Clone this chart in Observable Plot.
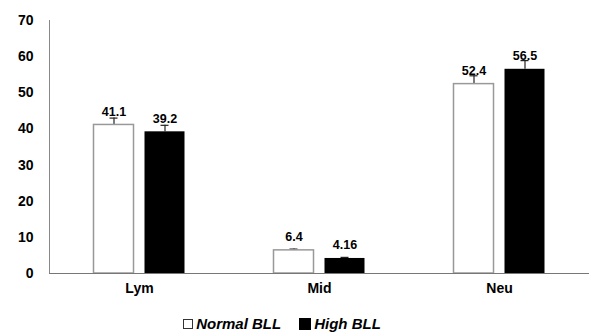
<!DOCTYPE html>
<html>
<head>
<meta charset="utf-8">
<script src="https://cdn.jsdelivr.net/npm/d3@7"></script>
<script src="https://cdn.jsdelivr.net/npm/@observablehq/plot@0.6"></script>
<style>
  body { margin: 0; background: #fff; font-family: "Liberation Sans", Arial, sans-serif; }
  #chart { width: 591px; }
  .legend { width: 591px; height: 33px; box-sizing: border-box; padding-right: 27px; padding-top: 14px;
            display: flex; justify-content: center; align-items: center; gap: 0;
            font: italic bold 15px "Liberation Sans", Arial, sans-serif; color: #000; }
  .sw { display: inline-block; width: 10px; height: 10px; margin-right: 3px; box-sizing: border-box; }
  .item { display: flex; align-items: center; margin: 0 9px; }
</style>
</head>
<body>
<div id="chart"></div>
<script>
const categories = ["Lym", "Mid", "Neu"];
const seriesNames = ["Normal BLL", "High BLL"];
const normalValues = [41.1, 6.4, 52.4];
const highValues = [39.2, 4.16, 56.5];
const normalErr = [1.9, 0.35, 2.3];
const highErr = [1.8, 0.3, 2.4];
const yTicks = [0, 10, 20, 30, 40, 50, 60, 70];
const valueLabels = {normal: ["41.1", "6.4", "52.4"], high: ["39.2", "4.16", "56.5"]};

const rows = categories.map((c, i) => ({
  cat: c,
  normal: normalValues[i], high: highValues[i],
  nTop: normalValues[i] + normalErr[i], hTop: highValues[i] + highErr[i],
  nLab: valueLabels.normal[i], hLab: valueLabels.high[i]
}));

const font = "Liberation Sans, Arial, sans-serif";
const off = 25.5;

const plot = Plot.plot({
  width: 591,
  height: 300,
  marginLeft: 49,
  marginRight: 2,
  marginTop: 20,
  marginBottom: 27,
  style: {fontFamily: font, background: "#fff", color: "#000"},
  x: {domain: categories, padding: 0, label: null},
  y: {domain: [0, 70], label: null},
  marks: [
    Plot.frame({anchor: "left", stroke: "#888"}),
    Plot.axisY({ticks: yTicks, tickSize: 0, tickPadding: 16, fontSize: 14, fontWeight: "bold", label: null, fill: "#000"}),
    Plot.axisX({tickSize: 0, tickPadding: 10, fontSize: 14, fontWeight: "bold", label: null, fill: "#000"}),
    // Error whiskers
    Plot.ruleX(rows, {x: "cat", y1: "normal", y2: "nTop", dx: -off, stroke: "#222", strokeWidth: 1.2}),
    Plot.ruleX(rows, {x: "cat", y1: "high", y2: "hTop", dx: off, stroke: "#222", strokeWidth: 1.2}),
    Plot.tickY(rows, {x: "cat", y: "nTop", insetLeft: 60.5, insetRight: 111.5, stroke: "#222", strokeWidth: 1.2}),
    Plot.tickY(rows, {x: "cat", y: "hTop", insetLeft: 111.5, insetRight: 60.5, stroke: "#222", strokeWidth: 1.2}),
    // Bars
    Plot.barY(rows, {x: "cat", y1: 0, y2: "normal", fill: "#fff", stroke: "#999", strokeWidth: 1.5, insetLeft: 44.5, insetRight: 95.5}),
    Plot.barY(rows, {x: "cat", y1: 0, y2: "high", fill: "#000", insetLeft: 95.5, insetRight: 44.5}),
    Plot.ruleY([0], {stroke: "#777", strokeWidth: 1.2}),
    // Value labels
    Plot.text(rows, {x: "cat", y: "normal", text: "nLab", dx: -off, dy: -9, lineAnchor: "bottom", fontSize: 12.5, fontWeight: "bold", fill: "#000"}),
    Plot.text(rows, {x: "cat", y: "high", text: "hLab", dx: off, dy: -9, lineAnchor: "bottom", fontSize: 12.5, fontWeight: "bold", fill: "#000"})
  ]
});
document.getElementById("chart").appendChild(plot);

const legend = document.createElement("div");
legend.className = "legend";
const swatchStyles = [
  "background:#fff;border:1px solid #333;",
  "background:#000;border:1px solid #000;width:12px;height:12px;"
];
seriesNames.forEach((name, i) => {
  const item = document.createElement("span");
  item.className = "item";
  const sw = document.createElement("span");
  sw.className = "sw";
  sw.style.cssText = swatchStyles[i];
  item.appendChild(sw);
  item.appendChild(document.createTextNode(name));
  legend.appendChild(item);
});
document.getElementById("chart").appendChild(legend);
</script>
</body>
</html>
